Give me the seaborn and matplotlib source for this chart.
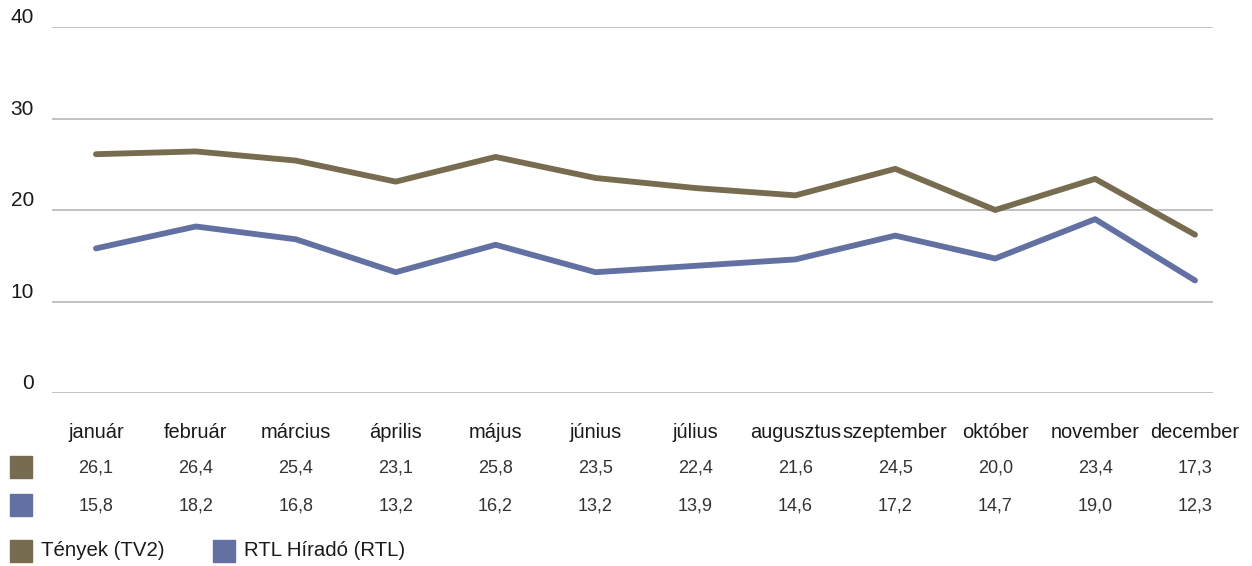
import pandas as pd
import seaborn as sns
import matplotlib.pyplot as plt
from matplotlib.patches import Rectangle
import matplotlib.transforms as mtransforms

# data
months = ['január', 'február', 'március', 'április', 'május', 'június',
          'július', 'augusztus', 'szeptember', 'október', 'november', 'december']
tenyek = [26.1, 26.4, 25.4, 23.1, 25.8, 23.5, 22.4, 21.6, 24.5, 20.0, 23.4, 17.3]
rtl = [15.8, 18.2, 16.8, 13.2, 16.2, 13.2, 13.9, 14.6, 17.2, 14.7, 19.0, 12.3]
series_names = ['Tények (TV2)', 'RTL Híradó (RTL)']
colors = ['#776c4f', '#6371a2']
yticks = [0, 10, 20, 30, 40]

df = pd.DataFrame({
    'month': list(range(len(months))) * 2,
    'value': tenyek + rtl,
    'series': [series_names[0]] * len(months) + [series_names[1]] * len(months),
})

sns.set_theme(style='white')
plt.rcParams['font.family'] = ['Liberation Sans', 'DejaVu Sans']

W, H = 1252, 566
fig = plt.figure(figsize=(W / 100, H / 100), dpi=100)
ax = fig.add_axes([52 / W, 1 - 393 / H, (1213 - 52) / W, (393 - 27) / H])

sns.lineplot(data=df, x='month', y='value', hue='series', palette=colors,
             linewidth=4.2, ax=ax, legend=False, solid_capstyle='round',
             solid_joinstyle='round')

ax.set_ylim(0, 40)
ax.set_xlim(-0.44, 11.18)
for v in yticks:
    ax.axhline(v, color='#bdbdbd', linewidth=1.3, zorder=0)
ax.set_yticks([])
ax.set_xticks([])
ax.set_xlabel('')
ax.set_ylabel('')
for s in ax.spines.values():
    s.set_visible(False)

# y labels
ytr = mtransforms.blended_transform_factory(fig.transFigure, ax.transData)
for v in yticks:
    ax.text(34 / W, v + 1.0, str(v), transform=ytr, ha='right', va='center',
            fontsize=15, color='#1a1a1a')

# data table
xtr = mtransforms.blended_transform_factory(ax.transData, fig.transFigure)
for i, m in enumerate(months):
    ax.text(i, 1 - 433 / H, m, transform=xtr, ha='center', va='center',
            fontsize=14.4, color='#1a1a1a')
    ax.text(i, 1 - 468 / H, f'{tenyek[i]:.1f}'.replace('.', ','), transform=xtr,
            ha='center', va='center', fontsize=13, color='#333333')
    ax.text(i, 1 - 506 / H, f'{rtl[i]:.1f}'.replace('.', ','), transform=xtr,
            ha='center', va='center', fontsize=13, color='#333333')

# row swatches
for yc, c in zip([467, 505], colors):
    fig.patches.append(Rectangle((10 / W, 1 - (yc + 11) / H), 22 / W, 22 / H,
                                 transform=fig.transFigure, color=c))

# legend
for x0, name, c in zip([10, 213], series_names, colors):
    fig.patches.append(Rectangle((x0 / W, 1 - 562 / H), 22 / W, 22 / H,
                                 transform=fig.transFigure, color=c))
    fig.text((x0 + 31) / W, 1 - 551 / H, name, ha='left', va='center',
             fontsize=14.7, color='#1a1a1a')

fig.savefig('out.png', dpi=100)
